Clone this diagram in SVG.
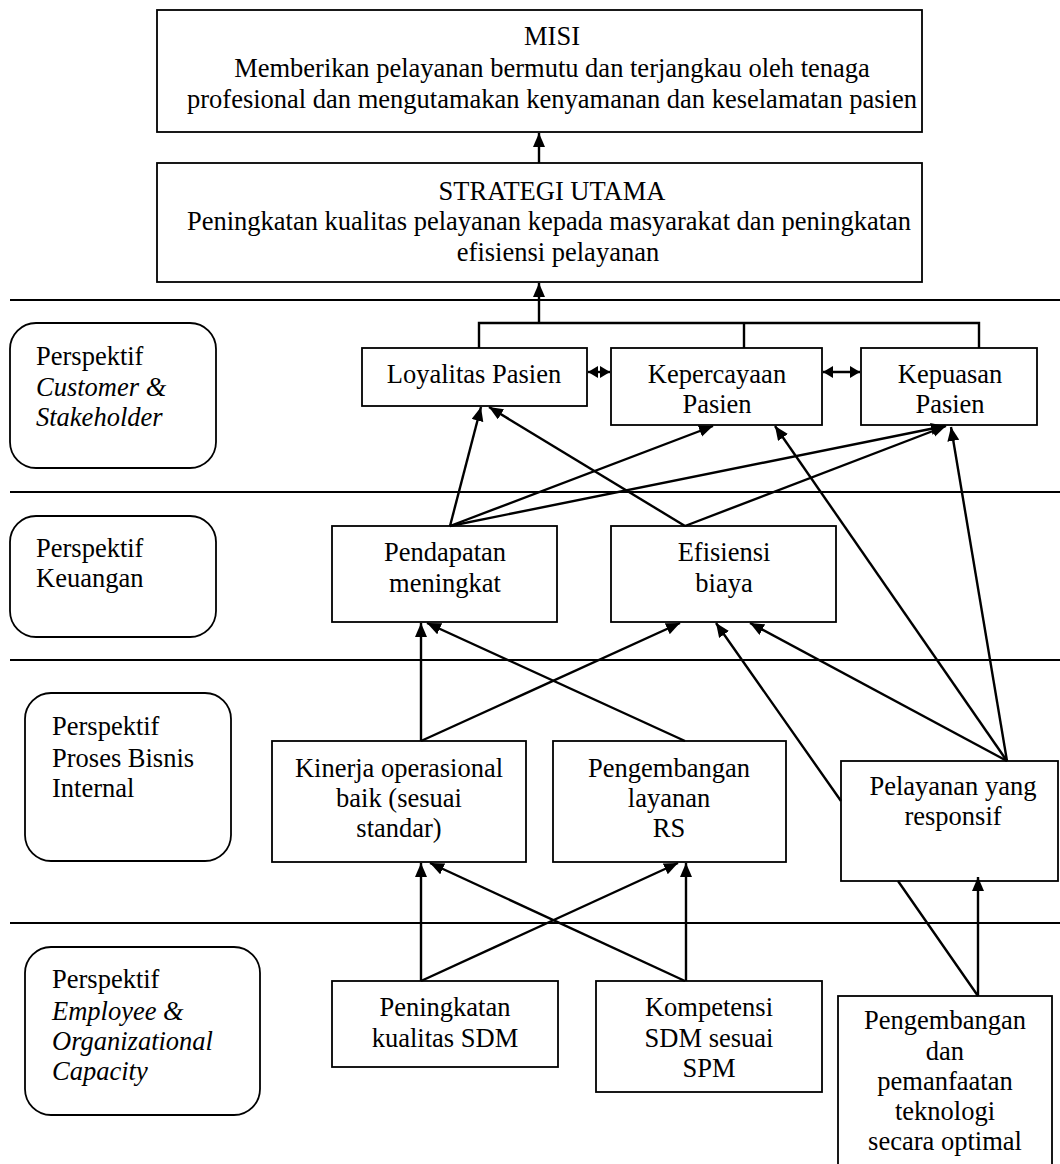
<svg xmlns="http://www.w3.org/2000/svg" width="1060" height="1164" viewBox="0 0 1060 1164">
<style>
  text { font-family: "Liberation Serif", "Times New Roman", serif; font-size: 26.5px; fill: #000; }
  .c { text-anchor: middle; }
  .i { font-style: italic; }
  .box { fill: #fff; stroke: #000; stroke-width: 1.8; }
  .sep { stroke: #000; stroke-width: 1.8; fill: none; }
  .con { stroke: #000; stroke-width: 2.4; fill: none; marker-end: url(#ah); }
  .plain { stroke: #000; stroke-width: 2.4; fill: none; }
  .dbl { stroke: #000; stroke-width: 2.4; fill: none; marker-start: url(#ah2); marker-end: url(#ah2); }
</style>
<defs>
  <marker id="ah" markerUnits="userSpaceOnUse" markerWidth="15" markerHeight="13" refX="14" refY="6" orient="auto-start-reverse">
    <path d="M0,0 L14,6 L0,12 z" fill="#000"/>
  </marker>
  <marker id="ah2" markerUnits="userSpaceOnUse" markerWidth="11" markerHeight="13" refX="10" refY="6" orient="auto-start-reverse">
    <path d="M0,0 L10,6 L0,12 z" fill="#000"/>
  </marker>
</defs>
<rect width="1060" height="1164" fill="#fff"/>

<g id="separators">
  <line class="sep" x1="10" y1="300" x2="1060" y2="300"/>
  <line class="sep" x1="10" y1="492" x2="1060" y2="492"/>
  <line class="sep" x1="10" y1="660" x2="1060" y2="660"/>
  <line class="sep" x1="10" y1="923" x2="1060" y2="923"/>
</g>

<g id="persp-customer">
  <rect class="box" x="10" y="323" width="206" height="145" rx="26"/>
  <text x="36" y="365">Perspektif</text>
  <text x="36" y="396" class="i">Customer &amp;</text>
  <text x="36" y="426" class="i">Stakeholder</text>
</g>
<g id="persp-keuangan">
  <rect class="box" x="10" y="516" width="206" height="121" rx="26"/>
  <text x="36" y="557">Perspektif</text>
  <text x="36" y="587">Keuangan</text>
</g>
<g id="persp-proses">
  <rect class="box" x="25" y="693" width="206" height="168" rx="26"/>
  <text x="52" y="735">Perspektif</text>
  <text x="52" y="767">Proses Bisnis</text>
  <text x="52" y="797">Internal</text>
</g>
<g id="persp-employee">
  <rect class="box" x="25" y="947" width="235" height="168" rx="26"/>
  <text x="52" y="988">Perspektif</text>
  <text x="52" y="1020" class="i">Employee &amp;</text>
  <text x="52" y="1050" class="i">Organizational</text>
  <text x="52" y="1080" class="i">Capacity</text>
</g>

<g id="misi">
  <rect class="box" x="157" y="10" width="765" height="122"/>
  <text x="552" y="45" class="c">MISI</text>
  <text x="552" y="77" class="c">Memberikan pelayanan bermutu dan terjangkau oleh tenaga</text>
  <text x="552" y="108" class="c">profesional dan mengutamakan kenyamanan dan keselamatan pasien</text>
</g>
<g id="strategi">
  <rect class="box" x="157" y="163" width="765" height="119"/>
  <text x="552" y="200" class="c">STRATEGI UTAMA</text>
  <text x="549" y="230" class="c">Peningkatan kualitas pelayanan kepada masyarakat dan peningkatan</text>
  <text x="558" y="261" class="c">efisiensi pelayanan</text>
</g>

<g id="loyalitas">
  <rect class="box" x="362" y="348" width="225" height="58"/>
  <text x="474" y="383" class="c">Loyalitas Pasien</text>
</g>
<g id="kepercayaan">
  <rect class="box" x="611" y="348" width="211" height="77"/>
  <text x="717" y="383" class="c">Kepercayaan</text>
  <text x="717" y="413" class="c">Pasien</text>
</g>
<g id="kepuasan">
  <rect class="box" x="861" y="348" width="176" height="77"/>
  <text x="950" y="383" class="c">Kepuasan</text>
  <text x="950" y="413" class="c">Pasien</text>
</g>

<g id="pendapatan">
  <rect class="box" x="332" y="526" width="225" height="96"/>
  <text x="445" y="561" class="c">Pendapatan</text>
  <text x="445" y="592" class="c">meningkat</text>
</g>
<g id="efisiensi">
  <rect class="box" x="611" y="526" width="225" height="96"/>
  <text x="724" y="561" class="c">Efisiensi</text>
  <text x="724" y="592" class="c">biaya</text>
</g>

<g id="kinerja">
  <rect class="box" x="272" y="741" width="254" height="121"/>
  <text x="399" y="777" class="c">Kinerja operasional</text>
  <text x="399" y="807" class="c">baik (sesuai</text>
  <text x="399" y="837" class="c">standar)</text>
</g>
<g id="pengembangan-layanan">
  <rect class="box" x="553" y="741" width="233" height="121"/>
  <text x="669" y="777" class="c">Pengembangan</text>
  <text x="669" y="807" class="c">layanan</text>
  <text x="669" y="837" class="c">RS</text>
</g>
<g id="pelayanan-responsif">
  <rect class="box" x="841" y="761" width="217" height="120"/>
  <text x="953" y="795" class="c">Pelayanan yang</text>
  <text x="953" y="825" class="c">responsif</text>
</g>

<g id="peningkatan-sdm">
  <rect class="box" x="332" y="981" width="226" height="86"/>
  <text x="445" y="1016" class="c">Peningkatan</text>
  <text x="445" y="1047" class="c">kualitas SDM</text>
</g>
<g id="kompetensi">
  <rect class="box" x="596" y="981" width="226" height="111"/>
  <text x="709" y="1016" class="c">Kompetensi</text>
  <text x="709" y="1047" class="c">SDM sesuai</text>
  <text x="709" y="1077" class="c">SPM</text>
</g>
<g id="teknologi">
  <rect class="box" x="838" y="996" width="214" height="190"/>
  <text x="945" y="1029" class="c">Pengembangan</text>
  <text x="945" y="1060" class="c">dan</text>
  <text x="945" y="1090" class="c">pemanfaatan</text>
  <text x="945" y="1120" class="c">teknologi</text>
  <text x="945" y="1150" class="c">secara optimal</text>
</g>

<g id="connectors">
  <line class="con" x1="539" y1="163" x2="539" y2="133"/>
  <line class="con" x1="539" y1="323" x2="539" y2="283"/>
  <path class="plain" d="M479,348 V323 H979 V348 M744,323 V348"/>
  <line class="dbl" x1="588" y1="372" x2="610" y2="372"/>
  <line class="dbl" x1="823" y1="372" x2="860" y2="372"/>

  <line class="con" x1="450" y1="526" x2="481" y2="407"/>
  <line class="con" x1="450" y1="526" x2="713" y2="426"/>
  <line class="con" x1="450" y1="526" x2="945" y2="426"/>
  <line class="con" x1="685" y1="526" x2="489" y2="407"/>
  <line class="con" x1="685" y1="526" x2="946" y2="426"/>

  <line class="con" x1="1007" y1="761" x2="775" y2="426"/>
  <line class="con" x1="1007" y1="761" x2="951" y2="427"/>
  <line class="con" x1="1007" y1="761" x2="750" y2="623"/>
  <path class="con" d="M978,996 L898,881 M841,801 L716,623"/>
  <line class="con" x1="978" y1="996" x2="978" y2="877"/>

  <line class="con" x1="421" y1="741" x2="421" y2="623"/>
  <line class="con" x1="421" y1="741" x2="680" y2="623"/>
  <line class="con" x1="685" y1="741" x2="427" y2="623"/>

  <line class="con" x1="421" y1="981" x2="421" y2="863"/>
  <line class="con" x1="421" y1="981" x2="678" y2="863"/>
  <line class="con" x1="685" y1="981" x2="430" y2="863"/>
  <line class="con" x1="686" y1="981" x2="686" y2="863"/>
</g>
</svg>
